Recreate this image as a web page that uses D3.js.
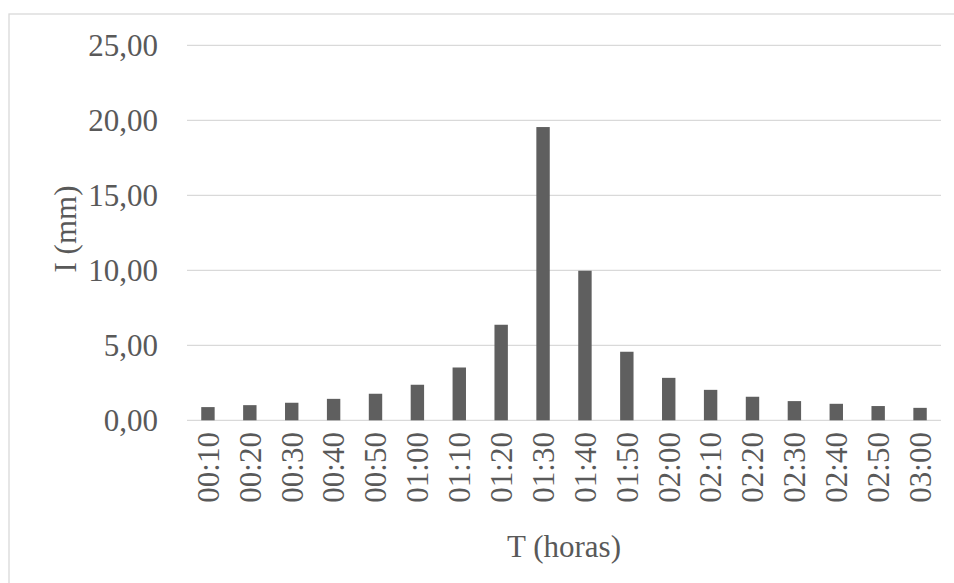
<!DOCTYPE html>
<html><head><meta charset="utf-8">
<script src="https://cdn.jsdelivr.net/npm/d3@7/dist/d3.min.js"></script>
<style>
html,body{margin:0;padding:0;background:#fff;}
svg{display:block;}
</style></head>
<body>
<svg id="chart" width="954" height="583"></svg>
<script>
const categories = ["00:10","00:20","00:30","00:40","00:50","01:00","01:10","01:20","01:30","01:40","01:50","02:00","02:10","02:20","02:30","02:40","02:50","03:00"];
const values = [0.88,1.01,1.17,1.43,1.77,2.37,3.52,6.37,19.55,9.97,4.57,2.83,2.03,1.57,1.28,1.10,0.95,0.83];
const yTicks = [0,5,10,15,20,25];
const xTitle = "T (horas)";
const yTitle = "I (mm)";

const FONT = "Liberation Serif";
const TXT = "#595959";
const svg = d3.select("#chart");
const W = 954, H = 583;
const m = {left:187, right:13, top:45.3, bottom:162.7};

svg.append("rect").attr("x",9).attr("y",14).attr("width",W).attr("height",H)
  .attr("fill","#fff").attr("stroke","#d9d9d9").attr("stroke-width",1.3);

const x = d3.scaleBand().domain(categories).range([m.left, W-m.right]).paddingInner(0.68).paddingOuter(0.34);
const y = d3.scaleLinear().domain([0,25]).range([H-m.bottom, m.top]);

const fmt = d => d3.format(".2f")(d).replace(".", ",");

function styleText(sel){
  return sel.style("font-family",FONT).style("font-size","31px").style("fill",TXT);
}

// gridlines
svg.append("g").selectAll("line").data(yTicks).join("line")
  .attr("x1", m.left).attr("x2", W-m.right)
  .attr("y1", d=>y(d)).attr("y2", d=>y(d))
  .attr("stroke","#d9d9d9").attr("stroke-width",1.3);

// y tick labels
styleText(svg.append("g").selectAll("text").data(yTicks).join("text")
  .attr("x", 158).attr("y", d=>y(d)).attr("dy","0.35em")
  .attr("text-anchor","end").text(fmt));

// bars
svg.append("g").selectAll("rect").data(values).join("rect")
  .attr("x",(d,i)=>x(categories[i])).attr("width",x.bandwidth())
  .attr("y",d=>y(d)).attr("height",d=>y(0)-y(d))
  .attr("fill","#5f5f5f");

// x tick labels
styleText(svg.append("g").selectAll("text").data(categories).join("text")
  .attr("transform",d=>`translate(${x(d)+x.bandwidth()/2},432) rotate(-90)`)
  .attr("dy","0.35em").attr("text-anchor","end").text(d=>d));

// axis titles
styleText(svg.append("text").attr("x",(m.left+W-m.right)/2).attr("y",557)
  .attr("text-anchor","middle").text(xTitle));
styleText(svg.append("text").attr("transform",`translate(65,229) rotate(-90)`)
  .attr("dy","0.35em").attr("text-anchor","middle").text(yTitle));
</script>
</body></html>
